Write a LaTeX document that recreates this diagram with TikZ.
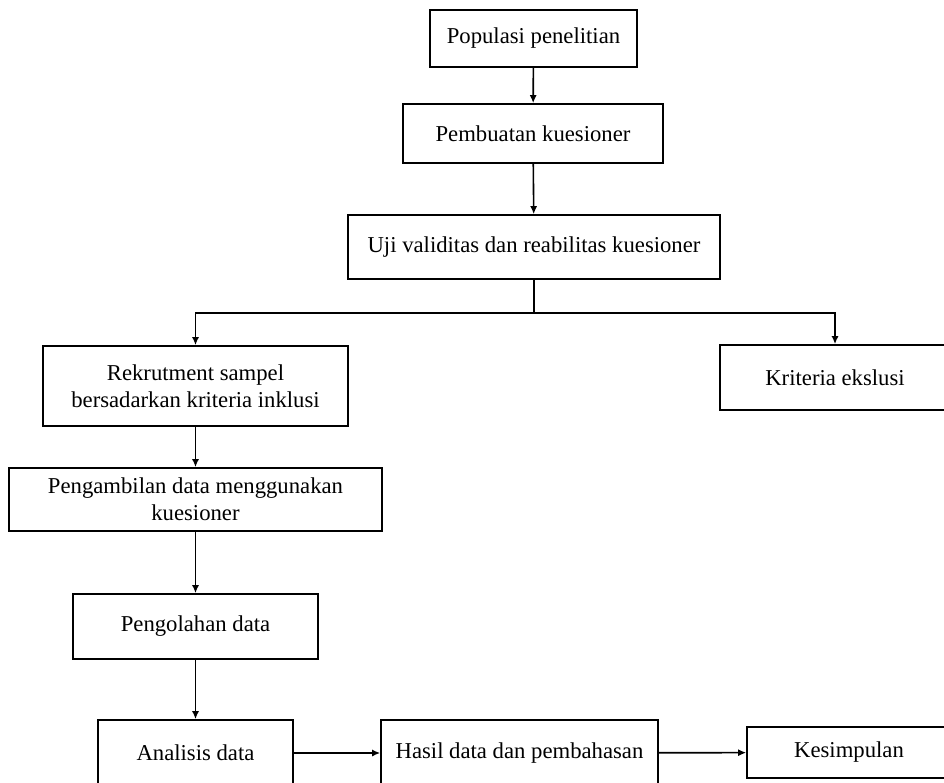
\documentclass[tikz,border=0pt]{standalone}
\usepackage{fontspec}
\setmainfont{Liberation Serif}
\usetikzlibrary{arrows.meta}

\tikzset{
  box/.style={draw, line width=1.6pt, inner sep=2pt, align=center,
    font=\fontsize{22.7}{27}\selectfont},
  flow/.style={draw, line width=1.6pt, -{Latex[length=8pt,width=7pt]}},
}

\begin{document}
\begin{tikzpicture}[x=1pt,y=1pt,yscale=-1,xscale=1]
\useasboundingbox (0,0) rectangle (944,783);
\begin{scope}
\clip (0,0) rectangle (944,783);

% Boxes
\node [box, minimum width=207pt, minimum height=57pt] (pop) at (533.5,38.5) {Populasi penelitian};
\node [box, minimum width=260pt, minimum height=59pt] (buat) at (533,133.5) {Pembuatan kuesioner};
\node [box, minimum width=372pt, minimum height=64pt] (uji) at (534,247) {Uji validitas dan reabilitas kuesioner};
\node [box, minimum width=305pt, minimum height=80pt] (rekrut) at (195.5,386) {Rekrutment sampel\\bersadarkan kriteria inklusi};
\node [box, minimum width=230pt, minimum height=65pt] (eksklusi) at (835,377.5) {Kriteria ekslusi};
\node [box, minimum width=373pt, minimum height=63pt] (ambil) at (195.5,499.5) {Pengambilan data menggunakan\\kuesioner};
\node [box, minimum width=245pt, minimum height=65pt] (olah) at (195.5,626.5) {Pengolahan data};
\node [box, minimum width=195pt, minimum height=66pt] (analisis) at (195.5,753) {Analisis data};
\node [box, minimum width=277pt, minimum height=66pt] (hasil) at (519.5,753) {Hasil data dan pembahasan};
\node [box, minimum width=204pt, minimum height=51pt] (simpul) at (849,752.5) {Kesimpulan};

% Split point below the test box
\coordinate (cabang) at (534,313);

% Connectors
\draw [flow] (pop) -- (buat);
\draw [flow] (buat) -- (uji);
\draw [line width=1.6pt] (uji.south) -- (cabang);
\draw [flow] (cabang) -| (rekrut.north);
\draw [flow] (cabang) -| (eksklusi.north);
\draw [flow] (rekrut) -- (ambil);
\draw [flow] (ambil) -- (olah);
\draw [flow] (olah) -- (analisis);
\draw [flow] (analisis) -- (hasil);
\draw [flow] (hasil) -- (simpul);
\end{scope}

\end{tikzpicture}
\end{document}
